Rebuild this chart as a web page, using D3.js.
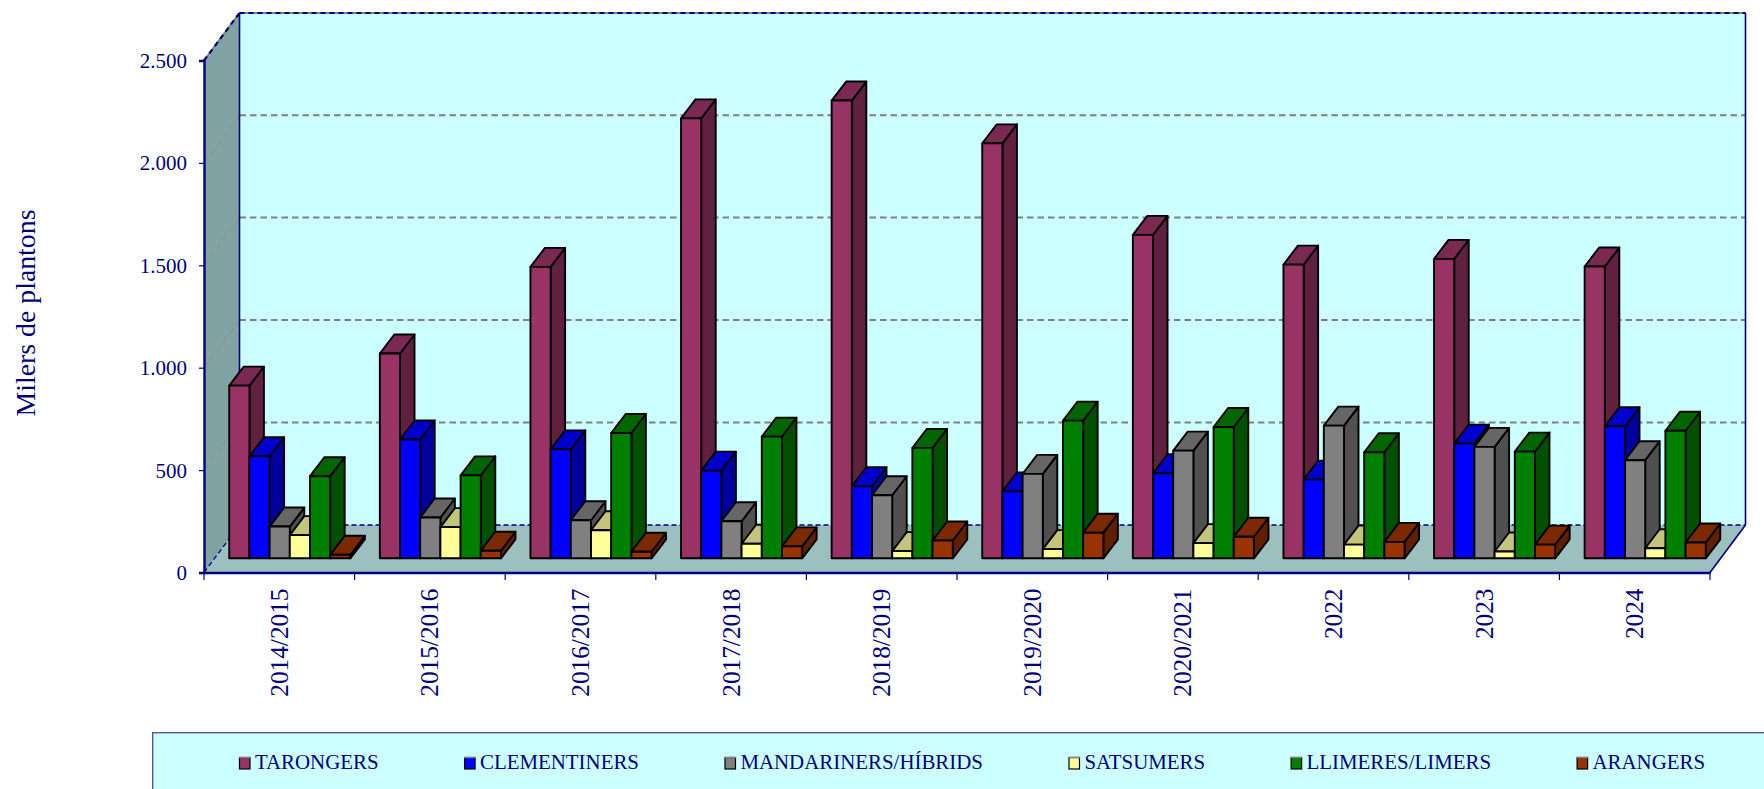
<!DOCTYPE html>
<html>
<head>
<meta charset="utf-8">
<title>Milers de plantons</title>
<script src="https://cdn.jsdelivr.net/npm/d3@7"></script>
<style>
    html, body { margin: 0; padding: 0; background: #fff; overflow: hidden; }
    text { font-family: "Liberation Serif", "Times New Roman", serif; fill: #000080; }
</style>
</head>
<body>
<div id="chart"></div>
<script>
var categories = ['2014/2015', '2015/2016', '2016/2017', '2017/2018', '2018/2019', '2019/2020', '2020/2021', '2022', '2023', '2024'];
var seriesNames = ['TARONGERS', 'CLEMENTINERS', 'MANDARINERS/HÍBRIDS', 'SATSUMERS', 'LLIMERES/LIMERS', 'ARANGERS'];

var tarongers = [843, 1000, 1423, 2148, 2235, 2026, 1579, 1434, 1462, 1425];
var clementiners = [498, 580, 532, 428, 352, 327, 415, 384, 560, 645];
var mandariners = [155, 199, 186, 181, 308, 412, 526, 648, 544, 479];
var satsumers = [113, 152, 137, 71, 35, 45, 74, 67, 33, 49];
var llimeres = [401, 405, 612, 594, 539, 672, 641, 518, 521, 623];
var arangers = [17, 37, 32, 58, 87, 125, 105, 80, 67, 77];
var seriesValues = [tarongers, clementiners, mandariners, satsumers, llimeres, arangers];

var yTicks = [0, 500, 1000, 1500, 2000, 2500];

// front, top, side
var barColors = [
    ['#993366', '#7a2952', '#602040'],
    ['#0000ff', '#0000cc', '#00009f'],
    ['#808080', '#666666', '#505050'],
    ['#ffff99', '#c4c47a', '#a0a060'],
    ['#008000', '#006600', '#005000'],
    ['#993300', '#7a2900', '#602000']
];

var NAVY = '#000080';
var width = 1764, height = 789;

// plot frame, the floor runs from the front edge to the back wall
var left = 204, right = 1710, y0 = 572.5, yTop = 60.5;
var wallDx = 35.5, wallDy = -47.5;
// bars stand in the middle of the floor
var barGapDx = 10.5, barGapDy = -14.2;
var barDx = 14.5, barDy = -19;

var svg = d3.select('#chart').append('svg')
    .attr('width', width)
    .attr('height', height);

var x = d3.scaleBand().domain(categories).range([left, right]);
var inner = d3.scaleBand().domain(seriesNames).range([0, x.bandwidth()]).paddingOuter(0.73);
var y = d3.scaleLinear().domain([0, 2500]).range([y0, yTop]);
var fmt = d3.formatLocale({ decimal: ',', thousands: '.', grouping: [3], currency: ['', ''] }).format(',d');

function poly(points) {
    return 'M' + points.map(function (p) { return p[0] + ',' + p[1]; }).join('L') + 'Z';
}

// walls and floor
svg.append('rect')
    .attr('x', left + wallDx).attr('y', yTop + wallDy)
    .attr('width', right - left).attr('height', y0 - yTop)
    .attr('fill', '#ccffff');
svg.append('path')
    .attr('d', poly([[left, y0], [left, yTop], [left + wallDx, yTop + wallDy], [left + wallDx, y0 + wallDy]]))
    .attr('fill', '#82a3a3');
svg.append('path')
    .attr('d', poly([[left, y0], [right, y0], [right + wallDx, y0 + wallDy], [left + wallDx, y0 + wallDy]]))
    .attr('fill', '#9cbfbf');

// gridlines on the back wall and the side wall
var gridTicks = yTicks.filter(function (d) { return d > 0 && d < 2500; });
svg.selectAll('.grid-back').data(gridTicks).enter().append('line')
    .attr('x1', left + wallDx).attr('x2', right + wallDx)
    .attr('y1', function (d) { return y(d) + wallDy - 0.2; })
    .attr('y2', function (d) { return y(d) + wallDy - 0.2; })
    .attr('stroke', '#808080').attr('stroke-width', 2).attr('stroke-dasharray', '6.5,4');
svg.selectAll('.grid-side').data(gridTicks).enter().append('line')
    .attr('x1', left).attr('x2', left + wallDx)
    .attr('y1', function (d) { return y(d); })
    .attr('y2', function (d) { return y(d) + wallDy; })
    .attr('stroke', '#938f8f').attr('stroke-width', 1.1).attr('stroke-dasharray', '6.5,4');

// frame of the box
var dashed = [
    [[left + wallDx, y0 + wallDy], [right + wallDx, y0 + wallDy]],
    [[left, y0], [left + wallDx, y0 + wallDy]]
];
svg.selectAll('.frame-dash').data(dashed).enter().append('line')
    .attr('x1', function (d) { return d[0][0]; }).attr('y1', function (d) { return d[0][1]; })
    .attr('x2', function (d) { return d[1][0]; }).attr('y2', function (d) { return d[1][1]; })
    .attr('stroke', NAVY).attr('stroke-width', 1.3).attr('stroke-dasharray', '5,3');

var topEdges = [
    [[left, yTop], [left + wallDx, yTop + wallDy]],
    [[left + wallDx, yTop + wallDy], [right + wallDx, yTop + wallDy]]
];
svg.selectAll('.frame-top-a').data(topEdges).enter().append('line')
    .attr('x1', function (d) { return d[0][0]; }).attr('y1', function (d) { return d[0][1]; })
    .attr('x2', function (d) { return d[1][0]; }).attr('y2', function (d) { return d[1][1]; })
    .attr('stroke', '#808080').attr('stroke-width', 2);
svg.selectAll('.frame-top-b').data(topEdges).enter().append('line')
    .attr('x1', function (d) { return d[0][0]; }).attr('y1', function (d) { return d[0][1]; })
    .attr('x2', function (d) { return d[1][0]; }).attr('y2', function (d) { return d[1][1]; })
    .attr('stroke', NAVY).attr('stroke-width', 2.2).attr('stroke-dasharray', '5,4');

var solid = [
    [[left + wallDx, yTop + wallDy], [left + wallDx, y0 + wallDy]],
    [[right + wallDx, yTop + wallDy], [right + wallDx, y0 + wallDy]],
    [[right, y0], [right + wallDx, y0 + wallDy]]
];
svg.selectAll('.frame-solid').data(solid).enter().append('line')
    .attr('x1', function (d) { return d[0][0]; }).attr('y1', function (d) { return d[0][1]; })
    .attr('x2', function (d) { return d[1][0]; }).attr('y2', function (d) { return d[1][1]; })
    .attr('stroke', NAVY).attr('stroke-width', 1.6);

// bars, later ones cover the earlier ones
categories.forEach(function (cat, c) {
    var g = svg.append('g').attr('class', 'cat');
    seriesNames.forEach(function (name, s) {
        var x1 = x(cat) + inner(name) + barGapDx;
        var x2 = x1 + inner.bandwidth();
        var yb = y0 + barGapDy;
        var yt = y(seriesValues[s][c]) + barGapDy;
        var bar = g.append('g')
            .attr('stroke', '#000')
            .attr('stroke-width', 1.9)
            .attr('stroke-linejoin', 'round');
        bar.append('path')
            .attr('d', poly([[x2, yb], [x2, yt], [x2 + barDx, yt + barDy], [x2 + barDx, yb + barDy]]))
            .attr('fill', barColors[s][2]);
        bar.append('path')
            .attr('d', poly([[x1, yt], [x2, yt], [x2 + barDx, yt + barDy], [x1 + barDx, yt + barDy]]))
            .attr('fill', barColors[s][1]);
        bar.append('rect')
            .attr('x', x1).attr('y', yt)
            .attr('width', x2 - x1).attr('height', yb - yt)
            .attr('fill', barColors[s][0]);
    });
});

// axes
var yAxis = svg.append('g')
    .attr('transform', 'translate(' + left + ',0)')
    .call(d3.axisLeft(y).tickValues(yTicks).tickFormat(fmt).tickSize(5).tickPadding(12));
yAxis.select('.domain').attr('stroke', NAVY).attr('stroke-width', 2.4);
yAxis.selectAll('.tick line').attr('stroke', NAVY).attr('stroke-width', 1.2);
yAxis.selectAll('text')
    .attr('fill', NAVY)
    .attr('dy', '0.33em')
    .style('font-size', '21px');

var xAxis = svg.append('g')
    .attr('transform', 'translate(0,' + y0 + ')')
    .call(d3.axisBottom(x).tickSize(0));
xAxis.select('.domain').attr('stroke', NAVY).attr('stroke-width', 2.4);
xAxis.selectAll('text')
    .attr('transform', 'rotate(-90)')
    .attr('text-anchor', 'end')
    .attr('x', -16)
    .attr('y', 8.5)
    .attr('dy', 0)
    .attr('fill', NAVY)
    .style('font-size', '25.3px');
xAxis.selectAll('.edge').data(categories.concat([''])).enter().append('line')
    .attr('class', 'edge')
    .attr('x1', function (d, i) { return left + i * x.step(); })
    .attr('x2', function (d, i) { return left + i * x.step(); })
    .attr('y1', 0).attr('y2', 7.5)
    .attr('stroke', NAVY).attr('stroke-width', 1.2);

// axis title
svg.append('text')
    .attr('transform', 'translate(35,313) rotate(-90)')
    .attr('text-anchor', 'middle')
    .style('font-size', '27.8px')
    .text('Milers de plantons');

// legend, the box runs past the edge of the picture
svg.append('rect')
    .attr('x', 152.7).attr('y', 732.7)
    .attr('width', width).attr('height', 100)
    .attr('fill', '#ccffff')
    .attr('stroke', '#4c4ca6').attr('stroke-width', 1.3);

var legendX = 239.5;
seriesNames.forEach(function (name, s) {
    var item = svg.append('g').attr('class', 'legend-item');
    item.append('rect')
        .attr('x', legendX).attr('y', 757.5)
        .attr('width', 10.5).attr('height', 11.5)
        .attr('fill', barColors[s][0])
        .attr('stroke', '#000').attr('stroke-width', 1.2);
    item.append('line')
        .attr('x1', legendX - 0.6).attr('x2', legendX + 11.1)
        .attr('y1', 757.5).attr('y2', 757.5)
        .attr('stroke', '#808080').attr('stroke-width', 1.4);
    var label = item.append('text')
        .attr('x', legendX + 15.4)
        .attr('y', 768.8)
        .style('font-size', '20.9px')
        .text(name);
    legendX += 15.4 + label.node().getComputedTextLength() + 86;
});
</script>
</body>
</html>
